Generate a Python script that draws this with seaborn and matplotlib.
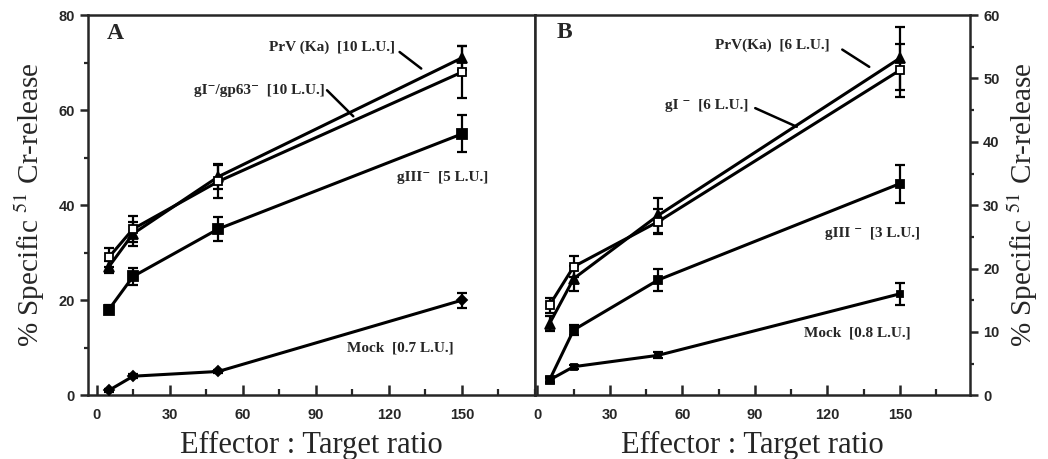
import numpy as np
import pandas as pd
import seaborn as sns
from matplotlib import pyplot as plt
from matplotlib.ticker import MultipleLocator

# effector : target ratios
et_ratio = [5, 15, 50, 150]

# panel A values (% specific release) and error bars
a_prv = [27, 34, 46, 71]
a_prv_err = [1.2, 2.5, 2.6, 2.5]
a_gi = [29, 35, 45, 68]
a_gi_err = [2.0, 2.8, 3.5, 5.5]
a_giii = [18, 25, 35, 55]
a_giii_err = [1.0, 1.8, 2.5, 3.9]
a_mock = [1, 4, 5, 20]
a_mock_err = [0.3, 0.4, 0.4, 1.6]

# panel B values
b_prv = [11.3, 18.4, 28.4, 53.2]
b_prv_err = [1.2, 2.0, 2.8, 5.0]
b_gi = [14.2, 20.3, 27.4, 51.3]
b_gi_err = [1.2, 1.6, 2.0, 4.2]
b_giii = [2.4, 10.3, 18.2, 33.4]
b_giii_err = [0.4, 0.8, 1.7, 3.0]
b_mock = [2.4, 4.5, 6.3, 16.0]
b_mock_err = [0.3, 0.3, 0.5, 1.7]

sns.set_theme(style='ticks')
plt.rcParams['font.family'] = ['Liberation Serif', 'DejaVu Serif']
plt.rcParams['mathtext.fontset'] = 'stix'
plt.rcParams['axes.linewidth'] = 1.8

serif = ['Liberation Serif', 'DejaVu Serif']
sans = ['Liberation Sans', 'DejaVu Sans']


# Draws one series: line + markers through seaborn, error bars on top
def draw_series(ax, y, err, marker, face, size):
	df = pd.DataFrame({'ratio': et_ratio, 'release': y})
	sns.lineplot(data=df, x='ratio', y='release', ax=ax, color='black', lw=2.2,
				 marker=marker, markersize=size, markerfacecolor=face,
				 markeredgecolor='black', markeredgewidth=1.3, zorder=3)
	ax.errorbar(et_ratio, y, yerr=err, fmt='none', ecolor='black', elinewidth=1.6,
				capsize=3.5, capthick=1.6, zorder=2)


def style_axes(ax, ymax, ymajor, side):
	ax.set_xlim(-3.5, 180)
	ax.set_ylim(0, ymax)
	ax.xaxis.set_major_locator(MultipleLocator(30))
	ax.xaxis.set_minor_locator(MultipleLocator(15))
	ax.yaxis.set_major_locator(MultipleLocator(ymajor))
	ax.yaxis.set_minor_locator(MultipleLocator(ymajor / 2))
	ax.set_xticks([0, 30, 60, 90, 120, 150])
	ax.tick_params(axis='x', which='major', direction='in', length=7, width=1.8, pad=9)
	ax.tick_params(axis='x', which='minor', direction='in', length=4, width=1.6)
	ax.tick_params(axis='y', which='major', direction='out', length=6, width=1.8)
	ax.tick_params(axis='y', which='minor', direction='out', length=3, width=1.6)
	ax.set_xlabel('Effector : Target ratio', fontsize=22, family=serif, labelpad=7)
	ylab = '% Specific $^{51}$ Cr-release'
	if side == 'right':
		ax.yaxis.tick_right()
		ax.yaxis.set_label_position('right')
		ax.set_ylabel(ylab, fontsize=21, family=serif, labelpad=4)
	else:
		ax.set_ylabel(ylab, fontsize=21, family=serif, labelpad=8)
	for lab in ax.get_xticklabels() + ax.get_yticklabels():
		lab.set_family(sans)
		lab.set_fontweight('bold')
		lab.set_fontsize(10.5)


def note(ax, txt, x, y, line=None):
	ax.text(x, y, txt, fontsize=11, fontweight='bold', family=serif, ha='left', va='center')
	if line is not None:
		ax.annotate('', xy=line[1], xytext=line[0],
					arrowprops=dict(arrowstyle='-', lw=1.8, color='black'))


fig = plt.figure(figsize=(10.48, 4.59), dpi=100)
ax_a = fig.add_axes([0.084, 0.139, 0.4265, 0.828])
ax_b = fig.add_axes([0.5105, 0.139, 0.415, 0.828])

# panel A
draw_series(ax_a, a_mock, a_mock_err, 'D', 'black', 5)
draw_series(ax_a, a_giii, a_giii_err, 's', 'black', 7)
draw_series(ax_a, a_prv, a_prv_err, '^', 'black', 7)
draw_series(ax_a, a_gi, a_gi_err, 's', 'white', 6)
style_axes(ax_a, 80, 20, 'left')
ax_a.text(4, 76.2, 'A', fontsize=17, fontweight='bold', family=serif, va='center')
note(ax_a, 'PrV (Ka)  [10 L.U.]', 70.8, 73.3, [(123.5, 72.6), (134.2, 68.4)])
note(ax_a, 'gI\u207b/gp63\u207b  [10 L.U.]', 40, 64.2, [(93.8, 64.6), (106.2, 58.3)])
note(ax_a, 'gIII\u207b  [5 L.U.]', 123.5, 45.9)
note(ax_a, 'Mock  [0.7 L.U.]', 102.9, 9.9)

# panel B
draw_series(ax_b, b_mock, b_mock_err, 's', 'black', 5)
draw_series(ax_b, b_giii, b_giii_err, 's', 'black', 6)
draw_series(ax_b, b_prv, b_prv_err, '^', 'black', 7)
draw_series(ax_b, b_gi, b_gi_err, 's', 'white', 6)
style_axes(ax_b, 60, 10, 'right')
ax_b.set_xlim(-1, 179)
ax_b.text(7.8, 57.2, 'B', fontsize=17, fontweight='bold', family=serif, va='center')
note(ax_b, 'PrV(Ka)  [6 L.U.]', 73.5, 55.3, [(125.2, 54.8), (138.3, 51.6)])
note(ax_b, 'gI \u207b  [6 L.U.]', 53, 45.8, [(89.1, 45.5), (108.4, 42.2)])
note(ax_b, 'gIII \u207b  [3 L.U.]', 119, 25.6)
note(ax_b, 'Mock  [0.8 L.U.]', 110.4, 9.8)

fig.savefig('out.png', dpi=100)
